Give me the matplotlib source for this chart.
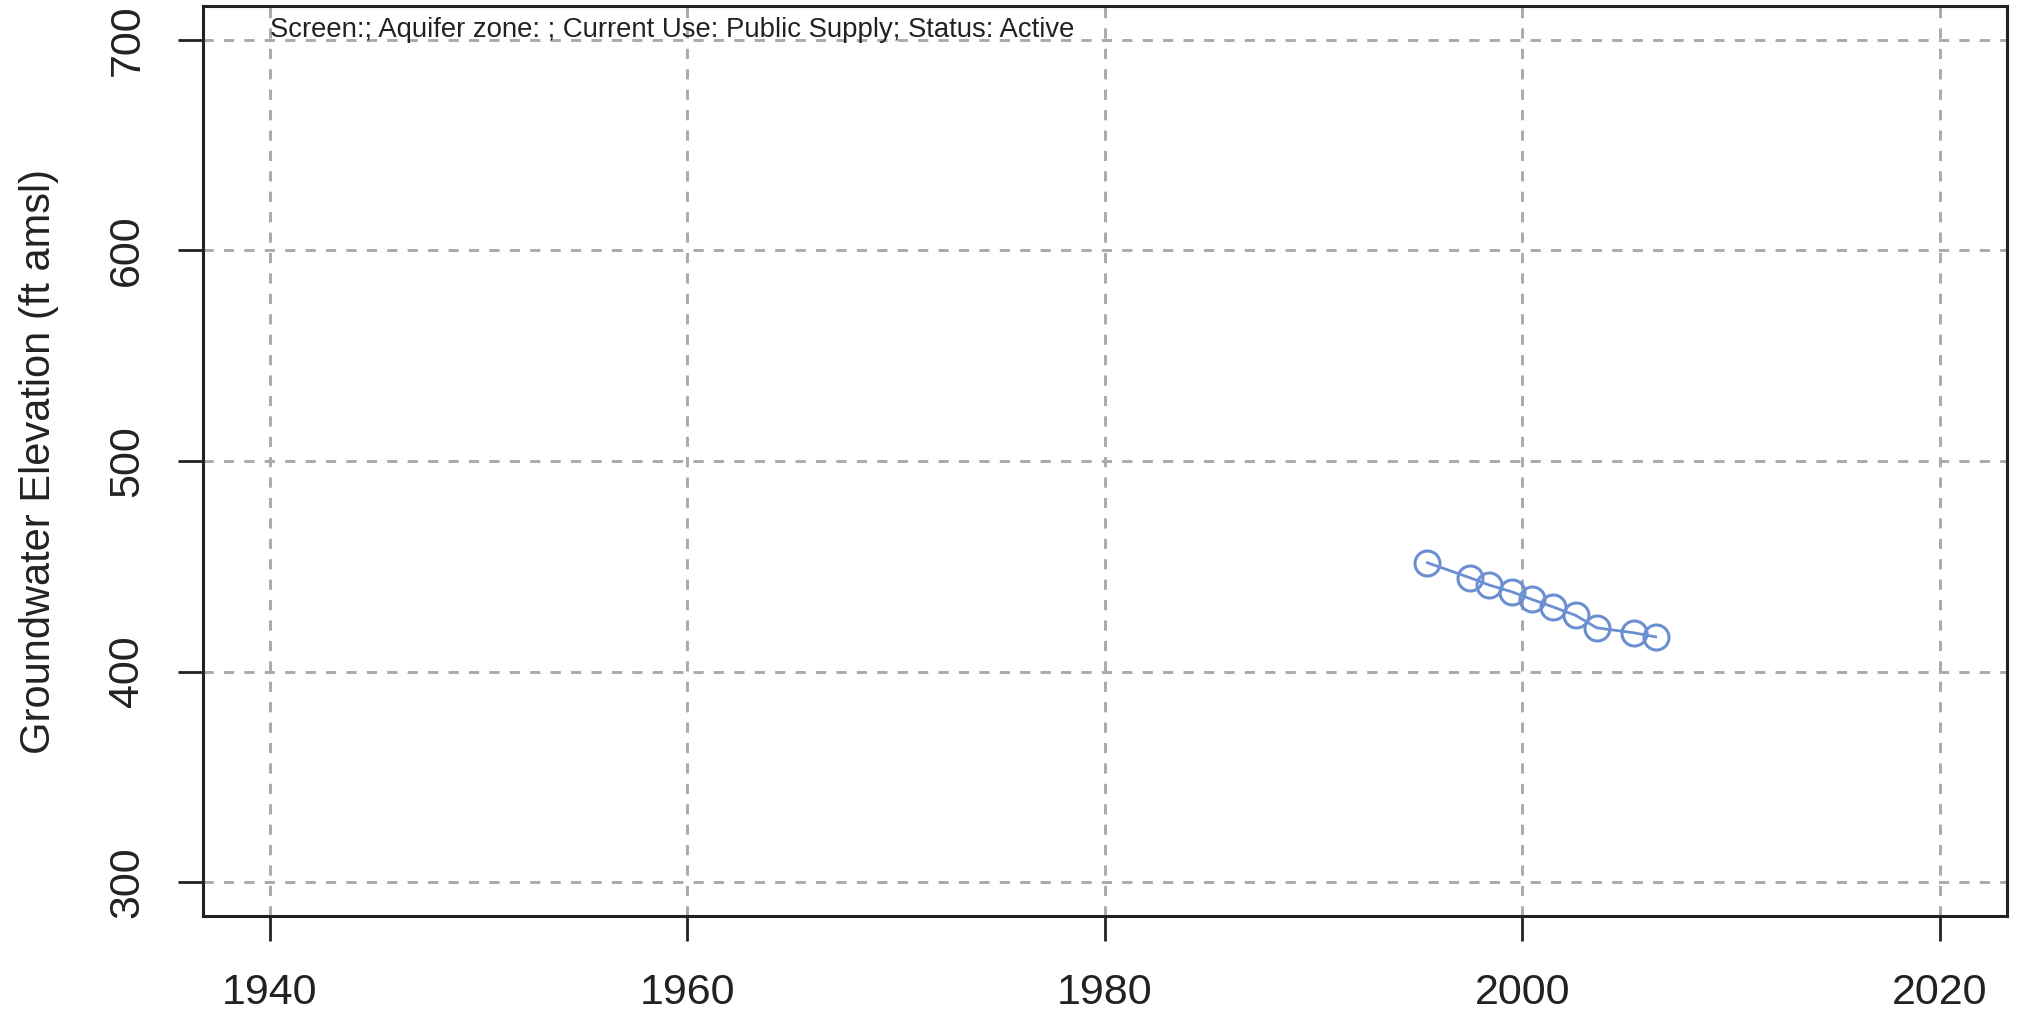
import numpy as np
import matplotlib
matplotlib.use("Agg")
import matplotlib.pyplot as plt

plt.rcParams['font.family'] = ['Liberation Sans', 'DejaVu Sans']

# groundwater level readings (decimal year, ft amsl)
years = [1995.45, 1997.48, 1998.41, 1999.49, 2000.45, 2001.44,
         2002.55, 2003.56, 2005.36, 2006.38]
elev = [451.7, 444.6, 441.1, 437.9, 434.3, 430.8, 426.7, 420.8, 418.4, 416.5]

xticks = [1940, 1960, 1980, 2000, 2020]
yticks = [300, 400, 500, 600, 700]
header = "Screen:; Aquifer zone: ; Current Use: Public Supply; Status: Active"

fig = plt.figure(figsize=(20.21, 10.13), dpi=100)
ax = fig.add_axes([0.1004, 0.0958, 0.8926, 0.8982])

line_col = "#6b8fd0"
ax.plot(years, elev, color=line_col, lw=2, zorder=3)
ax.plot(years, elev, 'o', mfc='none', mec=line_col, mew=2.2, ms=18, zorder=4)

ax.set_xlim(1936.8, 2023.2)
ax.set_ylim(284, 716)
ax.set_xticks(xticks)
ax.set_yticks(yticks)

# dashed grey grid at tick positions
for v in xticks:
    ax.axvline(v, color="#aaaaaa", lw=2.1, ls=(0, (3.5, 3.5)), zorder=1)
for v in yticks:
    ax.axhline(v, color="#aaaaaa", lw=2.1, ls=(0, (3.5, 3.5)), zorder=1)

for s in ax.spines.values():
    s.set_linewidth(2.2)
    s.set_color("#222222")

ax.tick_params(axis='both', length=18, width=2, color="#222222",
               labelsize=31, labelcolor="#222222")
ax.tick_params(axis='x', pad=23)
ax.tick_params(axis='y', pad=22)
for lab in ax.get_yticklabels():
    lab.set_rotation(90)
    lab.set_va('center')

ax.set_ylabel("Groundwater Elevation (ft amsl)", fontsize=30, color="#222222",
              labelpad=35)

ax.text(1940, 701.2, header, fontsize=19.8, color="#222222", ha='left',
        va='baseline')

fig.savefig("out.png", dpi=100)
